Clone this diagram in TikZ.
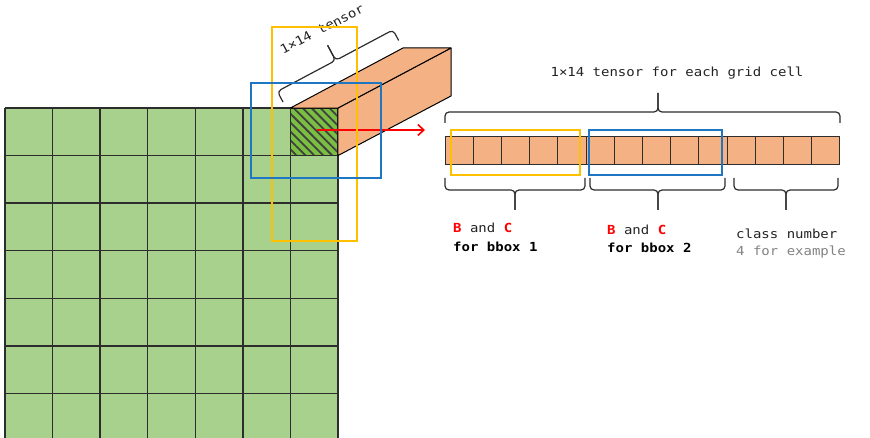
\documentclass[tikz,border=0pt]{standalone}
\usepackage{fontspec}
\newfontfamily\mono[FakeStretch=1.12]{DejaVu Sans Mono}
\usetikzlibrary{patterns.meta,arrows.meta}
\definecolor{gridgreen}{RGB}{169,209,142}
\definecolor{hatchgreen}{RGB}{122,190,66}
\definecolor{torange}{RGB}{244,177,131}
\definecolor{byellow}{RGB}{255,192,0}
\definecolor{bblue}{RGB}{31,119,196}
\definecolor{txtdark}{RGB}{35,35,35}
\definecolor{txtgray}{RGB}{130,130,130}
\definecolor{lined}{RGB}{45,45,45}
\tikzset{
  gridline/.style={draw=lined, line width=1.4pt},
  edge/.style={draw=black, line width=1pt, line join=round},
  tcell/.style={draw=lined, line width=1pt, fill=torange, minimum width=28.21pt, minimum height=28pt, inner sep=0pt, outer sep=0pt},
  ybox/.style={draw=byellow, line width=1.8pt},
  bbox/.style={draw=bblue, line width=1.8pt},
  bracestyle/.style={draw=lined, line width=1.2pt, rounded corners=4pt},
  lbl/.style={font=\mono\fontsize{12.5}{14}\selectfont, text=txtdark, inner sep=0pt},
}
\begin{document}
\begin{tikzpicture}[x=1pt,y=-1pt]
\useasboundingbox (0,0) rectangle (870,438);
% grid
\begin{scope}
\clip (0,0) rectangle (870,438);
\fill[gridgreen] (5,108) rectangle (338,445);
\foreach \i in {0,...,7} \draw[gridline] ({5+\i*47.57},108) -- ({5+\i*47.57},445);
\foreach \j in {0,...,7} \draw[gridline] (5,{108+\j*47.57}) -- (338,{108+\j*47.57});
\end{scope}
% hatched cell
\node[minimum size=47.57pt, inner sep=0pt, outer sep=0pt,
      preaction={fill=hatchgreen},
      pattern={Lines[angle=-45,distance=6.3pt,line width=1.8pt]}, pattern color=black!75,
      draw=lined, line width=1.4pt] (hatch) at (314.2,131.8) {};
% prism
\coordinate (ftl) at (hatch.north west);
\coordinate (ftr) at (hatch.north east);
\coordinate (fbr) at (hatch.south east);
\coordinate (btl) at (403,48);
\coordinate (btr) at (451,48);
\coordinate (bbr) at (451,96);
\draw[edge, fill=torange] (ftr) -- (btr) -- (bbr) -- (fbr) -- cycle;
\draw[edge, fill=torange] (ftl) -- (ftr) -- (btr) -- (btl) -- cycle;
% brace above prism
\begin{scope}[shift={(283,102)}, rotate=28]
\draw[bracestyle] (0,0) |- (66,-12) -- (66,-29);
\draw[bracestyle] (131,0) |- (66,-12) -- (66,-29);
\end{scope}
\node[lbl, rotate=28] (ptxt) at (322,29) {1×14 tensor};
% red arrow
\coordinate (atip) at (425,130);
\draw[red, line width=1.6pt, -{Straight Barb[length=6pt,width=11pt,line width=1.6pt]}] (317,130) -- (atip);
% boxes on grid
\draw[ybox] (272,27) rectangle (357,241);
\draw[bbox] (251,83) rectangle (381,178);
% tensor row
\foreach \k in {0,...,13} \node[tcell] (c\k) at ({445+14.105+\k*28.21},151) {};
\draw[ybox] (451,130) rectangle (580,175);
\draw[bbox] (589,130) rectangle (722,175);
% top brace
\draw[bracestyle] (445,123) |- (658,112) -- (658,93);
\draw[bracestyle] (840,123) |- (658,112) -- (658,93);
\node[lbl] (ttxt) at (677,73) {1×14 tensor for each grid cell};
% bottom braces
\draw[bracestyle] (445,178) |- (515,190) -- (515,210);
\draw[bracestyle] (585,178) |- (515,190) -- (515,210);
\draw[bracestyle] (590,178) |- (658,190) -- (658,210);
\draw[bracestyle] (725,178) |- (658,190) -- (658,210);
\draw[bracestyle] (734,178) |- (786,190) -- (786,210);
\draw[bracestyle] (838,178) |- (786,190) -- (786,210);
% labels
\node[lbl, anchor=base west] (l1a) at (453,233) {\textcolor{red}{\bfseries B} and \textcolor{red}{\bfseries C}};
\node[lbl, anchor=base west, font=\mono\bfseries\fontsize{12.5}{14}\selectfont, text=black] (l1b) at (453,252) {for bbox 1};
\node[lbl, anchor=base west] (l2a) at (607,235) {\textcolor{red}{\bfseries B} and \textcolor{red}{\bfseries C}};
\node[lbl, anchor=base west, font=\mono\bfseries\fontsize{12.5}{14}\selectfont, text=black] (l2b) at (607,253) {for bbox 2};
\node[lbl, anchor=base west] (l3a) at (736,239) {class number};
\node[lbl, anchor=base west, text=txtgray] (l3b) at (736,256) {4 for example};
\end{tikzpicture}
\end{document}
